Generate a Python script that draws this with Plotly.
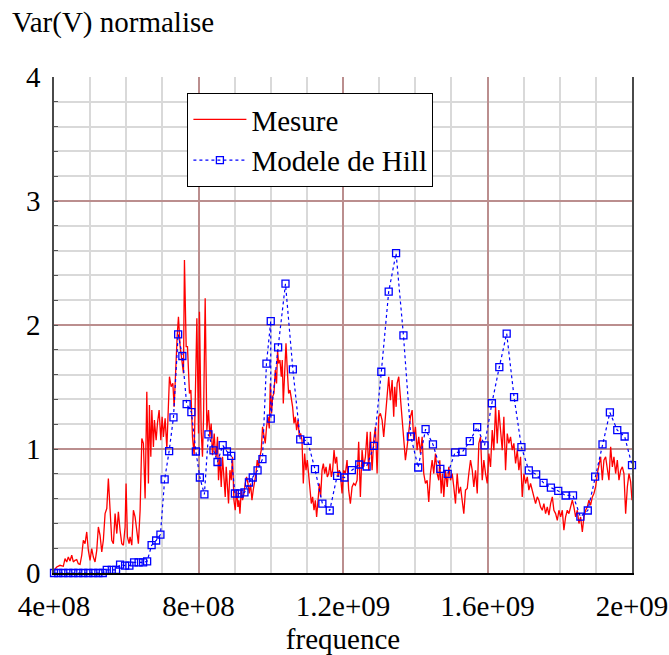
import plotly.graph_objects as go

# ---- Mesure: measured normalised variance (frequency in MHz) ----
mesure_f_mhz = [
    400, 407.5, 416.6, 425.8, 430.5, 435.2, 439.6, 444.3, 449.1, 453.5,
    458.2, 462.9, 467.3, 472.1, 476.8, 481.2, 485.9, 490.6, 495.1, 499.8,
    504.5, 508.9, 513.6, 518.3, 522.8, 527.5, 532.2, 536.6, 541.4, 546.1,
    550.5, 555.2, 559.9, 564.4, 569.1, 573.8, 578.2, 582.9, 587.6, 592.1,
    596.8, 599.5, 603.2, 607.9, 610.6, 615.4, 619.8, 624.5, 629.2, 633.6,
    638.4, 643.1, 647.5, 652.2, 656.9, 661.4, 664.1, 668.0, 670.8, 675.2,
    678.0, 682.7, 686.3, 691.0, 695.7, 699.3, 702.9, 707.6, 712.4, 716.8,
    719.6, 724.3, 729.0, 732.6, 736.2, 740.9, 744.5, 749.2, 753.9, 758.4,
    761.1, 765.9, 769.5, 775.0, 778.9, 783.3, 788.0, 792.7, 795.5,
    800.0, 802.7, 807.4, 811.0, 813.8, 818.5, 823.2, 827.7, 831.5, 835.1,
    838.7, 843.5, 846.2, 849.0, 852.6, 855.4, 859.2, 862.9, 866.5, 870.3,
    874.0, 876.7, 880.3, 883.1, 887.0, 890.6, 894.2, 898.1, 901.7, 905.3,
    909.2, 911.9, 914.7, 918.3, 921.9, 925.8, 929.4, 933.0, 936.9, 940.5,
    944.1, 948.0, 951.5, 955.2, 959.0, 962.6, 966.2, 970.1, 973.7, 977.3,
    981.2, 984.8, 988.4, 992.3, 995.9, 998.7, 1002.3, 1005.0, 1008.9, 1012.5,
    1016.1, 1018.9, 1021.7, 1025.5, 1029.2, 1031.9, 1034.7, 1038.3, 1042.2, 1045.8,
    1049.4, 1053.3, 1056.9, 1060.5, 1064.4, 1068.0, 1071.6, 1075.5, 1079.0, 1082.7,
    1086.5, 1090.1, 1093.8, 1097.6, 1101.2, 1104.8, 1108.7, 1112.3, 1115.9, 1119.8,
    1123.4, 1127.0, 1130.9, 1134.5, 1138.1, 1142.0, 1145.6, 1149.2, 1153.1, 1156.6,
    1160.3, 1164.1, 1167.7, 1171.3, 1175.2, 1178.8, 1182.4, 1186.3, 1189.9,
    1192.7, 1197.4, 1201.8, 1206.5, 1211.2, 1215.7, 1220.4, 1225.1, 1229.5, 1234.3,
    1239.0, 1243.4, 1248.1, 1252.8, 1257.3, 1262.0, 1266.7, 1271.1, 1275.8, 1280.5,
    1285.0, 1289.7, 1294.4, 1298.8, 1303.5, 1308.2, 1312.7, 1317.4, 1322.1, 1326.5,
    1331.3, 1336.0, 1340.4, 1343.2, 1347.1, 1349.8, 1354.3, 1359.0, 1363.7, 1368.1,
    1372.8, 1377.5, 1382.0, 1386.7, 1391.4, 1395.8, 1400.5, 1405.2, 1409.7, 1414.4,
    1419.1, 1423.5, 1428.2, 1432.9, 1437.4, 1442.1, 1446.8, 1451.2, 1456.0, 1460.7,
    1465.1, 1467.9, 1471.8, 1475.4, 1479.0, 1483.7, 1488.5, 1492.9, 1497.6, 1502.3,
    1506.7, 1511.4, 1516.1, 1520.6, 1525.3, 1530.0, 1534.4, 1539.1, 1543.9, 1548.3,
    1553.0, 1557.7, 1562.2, 1566.9, 1571.6, 1576.0, 1580.7, 1585.4, 1589.9,
    1594.6, 1599.3, 1603.7, 1608.4, 1613.1, 1617.6, 1622.3, 1627.0, 1631.4, 1636.1,
    1640.8, 1645.3, 1650.0, 1654.7, 1659.1, 1663.8, 1668.5, 1673.0, 1677.7, 1682.4,
    1686.8, 1691.5, 1696.2, 1700.7, 1705.4, 1710.1, 1714.5, 1719.2, 1724.0, 1728.4,
    1733.1, 1737.8, 1742.2, 1746.9, 1751.6, 1756.1, 1760.8, 1765.5, 1770.0, 1774.7,
    1779.4, 1783.8, 1788.5, 1793.2, 1797.7, 1802.4, 1807.1, 1811.5, 1816.2, 1820.9,
    1825.4, 1830.1, 1834.8, 1839.2, 1843.9, 1848.6, 1853.1, 1857.8, 1862.5, 1866.9,
    1871.6, 1876.3, 1880.8, 1885.5, 1890.2, 1894.6,
    1899.3, 1904.0, 1908.5, 1913.2, 1917.9, 1922.3, 1927.0, 1931.7, 1936.2, 1940.9,
    1945.6, 1950.0, 1954.7, 1959.4, 1963.9, 1968.6, 1973.3, 1977.7, 1982.4, 1987.1,
    1991.6, 1996.3, 2000.0,
]
mesure_val = [
    0.022, 0.048, 0.062, 0.054, 0.116, 0.089, 0.129, 0.097, 0.143, 0.089,
    0.102, 0.108, 0.075, 0.070, 0.143, 0.264, 0.237, 0.331, 0.183, 0.102,
    0.197, 0.129, 0.089, 0.183, 0.371, 0.304, 0.170, 0.264, 0.479, 0.520,
    0.762, 0.506, 0.264, 0.237, 0.479, 0.318, 0.493, 0.345, 0.237, 0.224,
    0.371, 0.722, 0.291, 0.237, 0.291, 0.224, 0.506, 0.452, 0.318, 0.237,
    0.506, 1.085, 1.045, 0.601, 1.461, 0.722, 1.354, 0.937, 1.314, 1.017,
    1.233, 1.071, 1.206, 1.314, 1.071, 1.260, 1.098, 1.247, 1.004, 1.314,
    1.583, 1.502, 1.529, 1.340, 1.650, 1.906, 2.067, 1.825, 1.717, 1.610,
    2.525, 1.825, 1.825, 1.448, 1.475, 1.098, 0.950, 1.529, 2.054,
    1.125, 2.107, 1.152, 0.937, 1.233, 2.216, 1.152, 1.314, 1.098, 1.206,
    0.950, 1.125, 0.991, 0.937, 1.098, 0.748, 0.937, 0.694, 0.937, 0.775,
    0.614, 0.856, 0.722, 0.560, 0.829, 0.748, 0.937, 0.587, 0.506, 0.668,
    0.533, 0.587, 0.479, 0.668, 0.587, 0.641, 0.722, 0.775, 0.722, 0.641,
    0.722, 0.587, 0.668, 0.722, 0.802, 0.910, 0.856, 0.937, 0.991, 1.179,
    1.098, 1.045, 1.179, 1.260, 1.166, 1.529, 1.287, 1.421, 1.448, 1.637,
    1.529, 1.798, 1.690, 1.717, 1.583, 1.717, 1.368, 1.663, 1.852, 1.637,
    1.448, 1.475, 1.421, 1.340, 1.206, 1.260, 1.152, 1.233, 1.098, 1.125,
    1.071, 0.722, 0.964, 0.829, 0.910, 0.775, 0.668, 0.560, 0.614, 0.506,
    0.587, 0.452, 0.587, 0.722, 0.614, 0.829, 0.883, 0.802, 0.856, 0.775,
    0.802, 0.883, 0.775, 0.829, 0.991, 0.883, 0.937, 0.775, 0.829,
    0.802, 0.641, 0.829, 0.802, 0.910, 0.668, 0.560, 0.694, 0.722, 0.708,
    0.748, 1.058, 0.614, 0.991, 0.856, 0.937, 1.138, 0.829, 1.138, 0.829,
    1.071, 1.179, 0.802, 1.260, 1.287, 1.233, 1.098, 1.260, 1.448, 1.583,
    1.394, 1.556, 1.260, 1.502, 1.340, 1.529, 1.583, 1.394, 1.233, 1.071,
    0.910, 1.017, 1.152, 1.260, 1.314, 1.071, 1.179, 0.991, 1.098, 0.964,
    1.098, 0.802, 0.722, 0.748, 0.573, 0.802, 0.910, 0.802, 0.964, 0.802,
    0.748, 0.910, 0.641, 0.802, 0.614, 0.829, 0.694, 0.856, 0.748, 0.802,
    0.694, 0.560, 0.802, 0.641, 0.694, 0.560, 0.479, 0.668, 0.681, 0.802,
    0.910, 0.829, 0.694, 0.829, 0.641, 1.045, 1.098, 0.748, 0.910,
    0.802, 0.722, 0.964, 0.856, 1.152, 0.991, 1.340, 1.045, 1.314, 1.179,
    0.991, 1.260, 0.829, 1.125, 1.045, 1.098, 0.991, 1.045, 0.883, 0.991,
    0.829, 0.937, 0.614, 0.802, 0.722, 0.775, 0.668, 0.722, 0.668, 0.614,
    0.560, 0.614, 0.587, 0.533, 0.506, 0.560, 0.479, 0.533, 0.466, 0.560,
    0.614, 0.506, 0.479, 0.425, 0.506, 0.452, 0.506, 0.345, 0.452, 0.506,
    0.479, 0.533, 0.587, 0.533, 0.452, 0.506, 0.399, 0.452, 0.331, 0.452,
    0.506, 0.533, 0.587, 0.547, 0.614, 0.641,
    0.694, 0.802, 0.856, 0.937, 0.748, 0.910, 0.937, 0.856, 0.748, 1.017,
    0.856, 0.937, 0.802, 0.910, 0.748, 0.829, 0.856, 0.802, 0.479, 0.694,
    0.802, 0.735, 0.587,
]

# ---- Modele de Hill: computed points (frequency in MHz) ----
hill_f_mhz = [
    400, 411.9, 425.8, 439.6, 453.5, 467.3, 481.2, 495.1, 508.9, 522.8,
    535.0, 546.1, 559.9, 571.8, 582.9, 596.8, 608.7, 621.7, 634.2, 646.7,
    657.8, 670.2, 682.7, 694.6, 706.3, 718.7, 730.7, 743.7, 755.3, 767.2,
    780.3, 792.7, 803.8, 816.3, 827.4, 841.5, 852.6, 867.0, 878.7, 890.6,
    900.8, 913.6, 927.2, 939.6, 950.2, 963.5, 977.0, 988.1, 1000.0,
    1000.0, 1020.4, 1040.8, 1061.2, 1081.6, 1102.0, 1122.4, 1142.9, 1163.3, 1183.7,
    1204.1, 1224.5, 1244.9, 1265.3, 1285.7, 1306.1, 1326.5, 1346.9, 1367.3, 1387.8,
    1408.2, 1428.6, 1449.0, 1469.4, 1489.8, 1510.2, 1530.6, 1551.0, 1571.4, 1591.8,
    1612.2, 1632.7, 1653.1, 1673.5, 1693.9, 1714.3, 1734.7, 1755.1, 1775.5, 1795.9,
    1816.3, 1836.7, 1857.1, 1877.6, 1898.0, 1918.4, 1938.8, 1959.2, 1979.6, 2000.0,
]
hill_val = [
    0.0, 0.0, 0.0, 0.0, 0.0, 0.0, 0.0, 0.0, 0.0, 0.0,
    0.0, 0.026, 0.026, 0.026, 0.068, 0.060, 0.060, 0.086, 0.086, 0.086,
    0.094, 0.224, 0.262, 0.310, 0.755, 0.983, 1.255, 1.925, 1.750, 1.362,
    1.297, 0.980, 0.770, 0.634, 1.118, 0.989, 0.895, 1.031, 0.980, 0.944,
    0.641, 0.641, 0.650, 0.730, 0.770, 0.828, 0.918, 1.688, 2.032,
    1.245, 1.820, 2.333, 1.642, 1.077, 1.066, 0.837, 0.560, 0.504, 0.783,
    0.770, 0.829, 0.875, 0.859, 1.025, 1.623, 2.269, 2.579, 1.917, 1.101,
    0.851, 1.160, 1.037, 0.840, 0.800, 0.972, 0.977, 1.063, 1.176, 1.029,
    1.369, 1.661, 1.931, 1.419, 1.015, 0.827, 0.795, 0.727, 0.688, 0.662,
    0.625, 0.626, 0.454, 0.504, 0.777, 1.038, 1.295, 1.152, 1.101, 0.870,
]

x_tick_vals = [4e8, 8e8, 1.2e9, 1.6e9, 2e9]
x_tick_text = ["4e+08", "8e+08", "1.2e+09", "1.6e+09", "2e+09"]
y_tick_vals = [0, 1, 2, 3, 4]
y_tick_text = ["0", "1", "2", "3", "4"]

FONT = "Liberation Serif, Times New Roman, serif"
MAJOR_GRID = "#bb8e8e"
MINOR_GRID = "#d9d9d9"

fig = go.Figure()

fig.add_trace(go.Scatter(
    x=[f * 1e6 for f in mesure_f_mhz],
    y=mesure_val,
    mode="lines",
    name="Mesure",
    line=dict(color="#ff0000", width=1.3),
))

fig.add_trace(go.Scatter(
    x=[f * 1e6 for f in hill_f_mhz],
    y=hill_val,
    mode="lines+markers",
    name="Modele de Hill",
    line=dict(color="#0000ff", width=1.2, dash="dot"),
    marker=dict(symbol="square-open", size=7, color="#0000ff",
                line=dict(width=1.3, color="#0000ff")),
    cliponaxis=False,
))

fig.update_layout(
    width=669,
    height=655,
    margin=dict(l=54, r=37, t=77, b=82),
    paper_bgcolor="white",
    plot_bgcolor="white",
    font=dict(family=FONT, size=29, color="black"),
    title=dict(
        text="Var(V) normalise",
        font=dict(family=FONT, size=29, color="black"),
        xref="container", yref="container",
        x=12 / 669, xanchor="left",
        y=1 - 22 / 655, yanchor="middle",
    ),
    legend=dict(
        x=0.2308, y=0.9677, xanchor="left", yanchor="top",
        bgcolor="white", bordercolor="black", borderwidth=1,
        font=dict(family=FONT, size=29, color="black"),
        itemwidth=53,
        entrywidth=185,
    ),
    showlegend=True,
)

fig.update_xaxes(
    range=[4e8, 2e9],
    automargin=False,
    tickmode="array", tickvals=x_tick_vals, ticktext=x_tick_text,
    showgrid=True, gridcolor=MAJOR_GRID, gridwidth=1.5,
    minor=dict(dtick=1e8, tick0=4e8, showgrid=True, gridcolor=MINOR_GRID, gridwidth=1.5),
    showline=True, linecolor="black", linewidth=1.5, mirror=False,
    zeroline=False, ticks="", ticklabelstandoff=6,
    title=dict(text="frequence", font=dict(family=FONT, size=29), standoff=8),
)

fig.update_yaxes(
    range=[0, 4],
    automargin=False,
    tickmode="array", tickvals=y_tick_vals, ticktext=y_tick_text,
    showgrid=True, gridcolor=MAJOR_GRID, gridwidth=1.5,
    minor=dict(dtick=0.2, tick0=0, showgrid=True, gridcolor=MINOR_GRID, gridwidth=1.5,
               ticks="inside", ticklen=4, tickcolor="#555555"),
    showline=True, linecolor="#4a4a4a", linewidth=1.5, mirror=True,
    zeroline=False, ticks="inside", ticklen=4, tickcolor="#555555",
    ticklabelstandoff=6,
)

fig.write_html("out.html")
